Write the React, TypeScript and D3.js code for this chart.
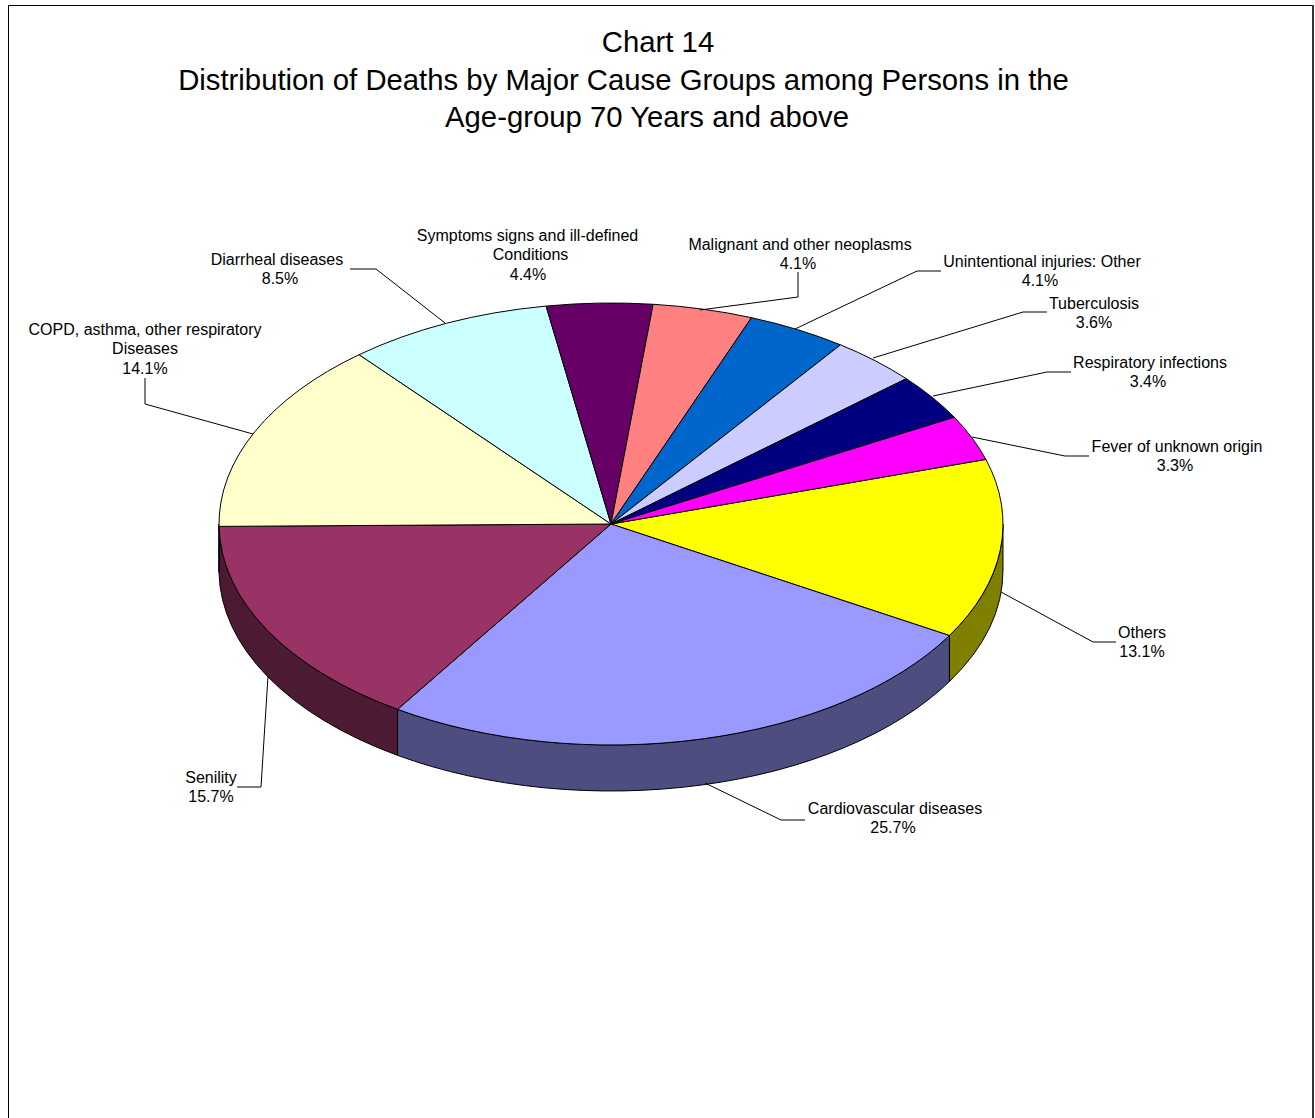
import React from "react";
import * as d3 from "d3";

const causes = ["Others","Cardiovascular diseases","Senility","COPD, asthma, other respiratory Diseases","Diarrheal diseases","Symptoms signs and ill-defined Conditions","Malignant and other neoplasms","Unintentional injuries: Other","Tuberculosis","Respiratory infections","Fever of unknown origin"];
const shares = [13.14,25.74,15.66,14.06,8.46,4.36,4.12,4.12,3.62,3.4,3.3];
const topColors = ["#FFFF00","#9999FF","#993366","#FFFFCC","#CCFFFF","#660066","#FF8080","#0066CC","#CCCCFF","#000080","#FF00FF"];
const sideColors = ["#808000","#4D4D80","#4D1A33","#808066","#668080","#330033","#804040","#003366","#666680","#000040","#800080"];
const titleLines = ["Chart 14","Distribution of Deaths by Major Cause Groups among Persons in the","Age-group 70 Years and above"];
const labelLines = [["Others"],["Cardiovascular diseases"],["Senility"],["COPD, asthma, other respiratory","Diseases"],["Diarrheal diseases"],["Symptoms signs and ill-defined","Conditions"],["Malignant and other neoplasms"],["Unintentional injuries: Other"],["Tuberculosis"],["Respiratory infections"],["Fever of unknown origin"]];
const labelX = [1142,895,211,145,277,527.5,800,1042,1094,1150,1177];
const labelY = [638,814,783,335,265,241,250,267,309,368,452];
const wrapOffset = [0,0,0,0,0,3,0,0,0,0,0];
const percentX = [1142,893,211,145,280,528,798,1040,1094,1148,1175];
const leaders: number[][][] = [
  [[1001,592],[1093,642],[1116,642]],
  [[705,783],[781,820],[805,820]],
  [[268,676],[261,787],[237,787]],
  [[253,434],[145,404],[145,378]],
  [[445,323],[376,269],[350,269]],
  [],
  [[700,310],[798,297],[798,272]],
  [[795,329],[917,271],[941,271]],
  [[873,358],[1023,312],[1047,312]],
  [[933,396],[1047,372],[1071,372]],
  [[972,437],[1065,456],[1089,456]],
];

const W = 1315, H = 1118;
const cx = 611, cy = 524, rx = 392, ry = 221, depth = 46;
const startDeg = 73;
const toRad = (d: number) => (d * Math.PI) / 180;
const px = d3.scaleLinear().domain([-1, 1]).range([cx - rx, cx + rx]);
const py = d3.scaleLinear().domain([-1, 1]).range([cy - ry, cy + ry]);
const pt = (a: number, dy = 0): [number, number] => [px(Math.sin(a)), py(-Math.cos(a)) + dy];
const line = d3.line();

const pie = d3.pie<number>().sort(null).startAngle(toRad(startDeg)).endAngle(toRad(startDeg + 360));
const slices = pie(shares);

function topPath(a0: number, a1: number) {
  const [x1, y1] = pt(a1);
  return `M${cx},${cy}L${pt(a0).join(",")}A${rx},${ry} 0 ${a1 - a0 > Math.PI ? 1 : 0} 1 ${x1},${y1}Z`;
}
function sidePath(a0: number, a1: number) {
  const s = Math.max(a0, Math.PI / 2), e = Math.min(a1, (3 * Math.PI) / 2);
  if (e <= s) return null;
  const [x0, y0] = pt(s), [x1, y1] = pt(e);
  return `M${x0},${y0}A${rx},${ry} 0 0 1 ${x1},${y1}L${x1},${y1 + depth}A${rx},${ry} 0 0 0 ${x0},${y0 + depth}Z`;
}

export default function App() {
  return (
    <svg width={W} height={H} style={{ position: "absolute", left: 0, top: 0, background: "#fff" }} fontFamily="'Liberation Sans', Arial, sans-serif">
      <path d={`M8.5,${H}V5.5H1313V${H}`} fill="none" stroke="#000" strokeWidth={1} />
      <path d={`M1313,5V${H}`} fill="none" stroke="#333" strokeWidth={2} />
      {titleLines.map((t, i) => (
        <text key={i} x={i === 1 ? 623.5 : i === 0 ? 658 : 647} y={52 + i * 37.5} textAnchor="middle" fontSize={29.3} fill="#000">{t}</text>
      ))}
      {slices.map((s, i) => {
        const d = sidePath(s.startAngle, s.endAngle);
        return d ? <path key={i} d={d} fill={sideColors[i]} stroke="#000" strokeWidth={1} /> : null;
      })}
      {slices.map((s, i) => (
        <path key={i} d={topPath(s.startAngle, s.endAngle)} fill={topColors[i]} stroke="#000" strokeWidth={1} strokeLinejoin="round" />
      ))}
      {leaders.map((l, i) => l.length ? <path key={i} d={line(l as [number, number][]) as string} fill="none" stroke="#000" strokeWidth={1} /> : null)}
      {causes.map((c, i) => {
        const names = labelLines[i];
        return (
          <text key={c} textAnchor="middle" fontSize={16} fill="#000">
            {names.map((t, j) => <tspan key={j} x={labelX[i] + (j > 0 ? wrapOffset[i] : 0)} y={labelY[i] + j * 19.3}>{t}</tspan>)}
            <tspan x={percentX[i]} y={labelY[i] + names.length * 19.3}>{shares[i].toFixed(1) + "%"}</tspan>
          </text>
        );
      })}
    </svg>
  );
}
